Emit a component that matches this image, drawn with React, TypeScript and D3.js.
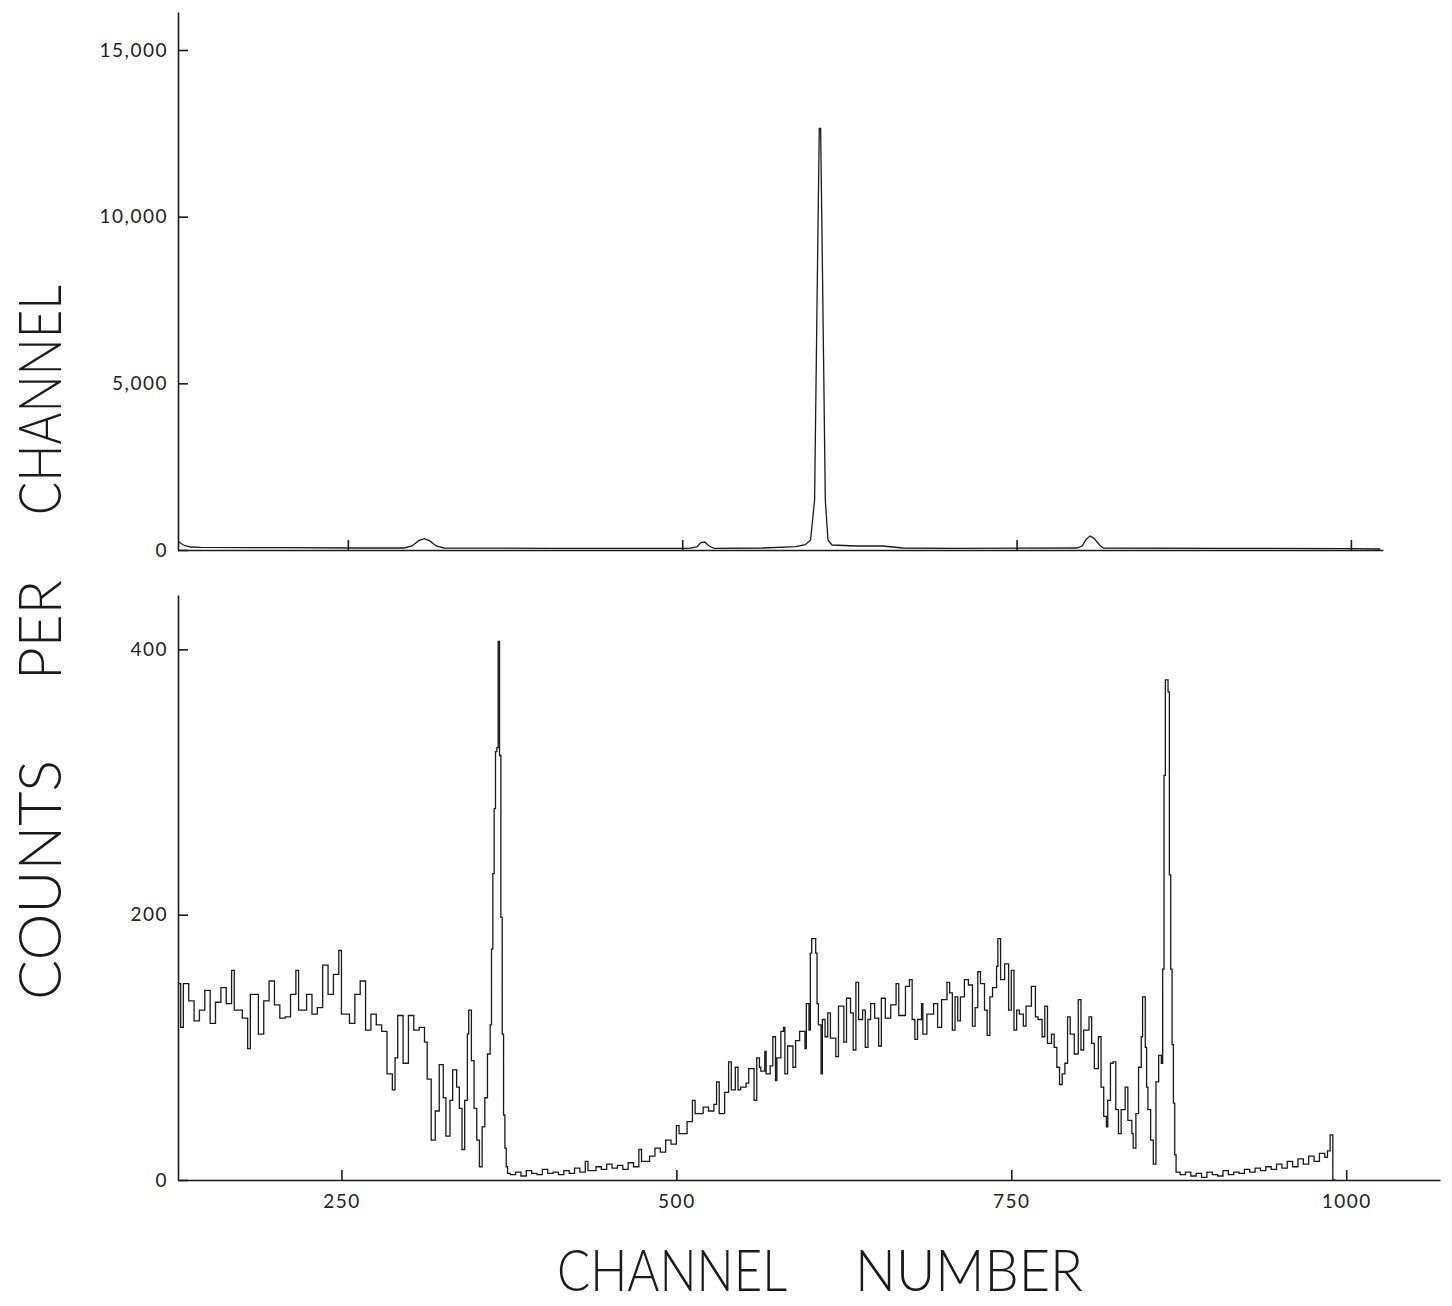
import React, { useEffect, useRef } from "react"
import * as d3 from "d3"

// upper panel: full spectrum at its turning points
const topChannels = [123, 127, 132, 140, 200, 260, 292, 298, 303, 307, 311, 316, 322, 400, 505, 511, 514, 517, 520, 524,
    560, 585, 592, 596, 599, 601, 602.5, 603.5, 605, 607, 609, 612, 630, 650, 665, 700, 795, 799, 802, 805,
    808, 812, 815, 900, 1000, 1022]
const topCounts = [260, 150, 90, 80, 70, 60, 60, 120, 280, 340, 280, 120, 60, 50, 50, 90, 220, 240, 120, 50,
    60, 100, 160, 300, 1500, 8000, 12650, 12650, 8000, 1500, 300, 150, 120, 120, 60, 50, 60, 120, 320, 420,
    350, 150, 60, 50, 40, 30]

// lower panel: same channels, expanded count scale (step histogram)
const bottomChannels = [
    128, 130, 132, 136, 140, 144, 148, 152, 156, 160, 164, 168, 170, 176, 180, 182, 186, 188, 192, 196,
    200, 204, 208, 212, 216, 218, 224, 228, 232, 236, 240, 244, 248, 250, 256, 260, 264, 268, 272, 276,
    280, 284, 288, 290, 292, 296, 300, 304, 308, 312, 314, 317, 320, 323, 326, 328, 331, 333, 336, 338,
    340, 342, 344, 345, 347, 349, 351, 353, 355, 357, 359, 361, 362, 363, 364, 365, 366, 367, 368, 369,
    370, 371, 372, 373, 374, 376, 380, 384, 388, 392, 396, 400, 404, 408, 412, 416, 420, 424, 428, 432,
    434, 440, 444, 448, 452, 456, 460, 464, 468, 472, 474, 480, 484, 488, 492, 496, 500, 502, 508, 512,
    514, 520, 524, 528, 530, 532, 536, 539, 541, 544, 546, 548, 552, 554, 558, 560, 562, 563, 566, 567,
    570, 572, 574, 575, 578, 580, 581, 583, 587, 589, 592, 596, 597, 599, 600, 601, 604, 605, 606, 608,
    609, 611, 613, 615, 619, 621, 625, 627, 630, 632, 634, 636, 639, 641, 643, 645, 648, 651, 653, 656,
    660, 664, 666, 671, 674, 676, 678, 680, 683, 684, 687, 692, 695, 698, 702, 704, 706, 708, 710, 712,
    715, 718, 721, 723, 725, 727, 730, 732, 734, 736, 739, 740, 742, 745, 748, 750, 752, 754, 756, 759,
    761, 765, 768, 770, 773, 775, 777, 780, 782, 784, 786, 788, 790, 792, 794, 797, 800, 802, 804, 808,
    810, 812, 815, 817, 819, 821, 822, 824, 826, 828, 830, 832, 835, 837, 840, 841, 843, 845, 847, 848,
    850, 851, 852, 854, 856, 858, 860, 862, 863, 864, 865, 867, 868, 869, 870, 871, 872, 873, 876, 880,
    884, 888, 892, 896, 900, 904, 908, 912, 916, 920, 924, 928, 932, 936, 940, 944, 948, 952, 956, 960,
    964, 968, 972, 976, 980, 984, 986, 988, 990, 992]
const bottomCounts = [
    148, 115, 148, 135, 120, 128, 143, 118, 134, 145, 133, 158, 128, 122, 99, 140, 140, 110, 135, 150,
    132, 122, 123, 140, 158, 128, 140, 125, 130, 162, 140, 155, 173, 125, 118, 140, 150, 113, 125, 117,
    112, 80, 68, 92, 124, 88, 124, 113, 115, 104, 76, 30, 52, 87, 62, 33, 60, 83, 70, 54,
    23, 60, 110, 128, 90, 54, 30, 10, 40, 62, 95, 117, 174, 231, 280, 323, 326, 406, 320, 198,
    110, 49, 24, 10, 5, 4, 6, 3, 7, 5, 4, 8, 5, 6, 4, 7, 5, 9, 6, 14,
    7, 10, 8, 12, 9, 11, 8, 13, 10, 23, 14, 18, 24, 21, 30, 27, 41, 35, 44, 60,
    50, 55, 52, 57, 74, 50, 66, 89, 68, 85, 68, 70, 73, 84, 60, 92, 85, 82, 97, 80,
    86, 108, 75, 92, 112, 115, 80, 101, 85, 105, 112, 99, 133, 113, 171, 182, 171, 133, 117, 80,
    121, 108, 126, 107, 93, 131, 104, 137, 126, 98, 149, 121, 128, 100, 121, 133, 122, 101, 137, 122,
    132, 148, 124, 146, 151, 121, 106, 121, 133, 110, 125, 133, 115, 136, 149, 141, 113, 138, 120, 138,
    151, 147, 116, 130, 157, 148, 128, 109, 138, 145, 161, 182, 151, 163, 128, 158, 113, 128, 125, 116,
    131, 146, 123, 121, 108, 131, 103, 110, 100, 85, 72, 80, 88, 123, 110, 95, 136, 98, 113, 123,
    103, 84, 108, 70, 48, 40, 60, 88, 89, 53, 35, 53, 70, 45, 35, 24, 50, 85, 108, 138,
    100, 70, 53, 30, 12, 74, 94, 88, 159, 305, 377, 368, 230, 159, 102, 58, 19, 6, 4, 6,
    3, 5, 2, 6, 4, 3, 7, 4, 6, 5, 8, 6, 9, 7, 10, 8, 12, 9, 14, 10,
    16, 12, 18, 14, 20, 17, 22, 34, 0, 0]

const xTicks = [250, 500, 750, 1000]
const topYTicks = [0, 5000, 10000, 15000]
const bottomYTicks = [0, 200, 400]

const INK = "#1a1a1a"
const tickFont = "Lato, 'DejaVu Sans', sans-serif"

function Spectrum() {
    const svgRef = useRef(null)

    useEffect(() => {
        const width = 1452
        const height = 1306

        const svg = d3.select(svgRef.current)
        svg.selectAll("*").remove()
        svg.attr("width", width).attr("height", height)

        svg.append("rect").attr("width", width).attr("height", height).attr("fill", "#fff")

        const xTop = d3.scaleLinear().domain([123, 1024]).range([178, 1383])
        const yTop = d3.scaleLinear().domain([0, 16140]).range([550, 12])
        const xBot = d3.scaleLinear().domain([128, 1070]).range([178, 1440])
        const yBot = d3.scaleLinear().domain([0, 441]).range([1180, 595])

        const styleAxis = (g) => {
            g.select(".domain").attr("stroke", INK).attr("stroke-width", 1.6)
            g.selectAll(".tick line").attr("stroke", INK).attr("stroke-width", 1.6)
            g.attr("font-family", tickFont)
                .attr("font-size", 19)
            g.selectAll(".tick text")
                .attr("fill", "#222")
                .attr("letter-spacing", 1.5)
        }

        // upper panel axes
        g_axis(svg, `translate(0,${yTop(0)})`,
            d3.axisBottom(xTop).tickValues(xTicks).tickSize(-10).tickSizeOuter(0).tickFormat(() => ""), styleAxis)
        g_axis(svg, `translate(${xTop.range()[0]},0)`,
            d3.axisLeft(yTop).tickValues(topYTicks).tickSize(-10).tickSizeOuter(0).tickPadding(10)
                .tickFormat(d3.format(",")), styleAxis)

        // lower panel axes
        g_axis(svg, `translate(0,${yBot(0)})`,
            d3.axisBottom(xBot).tickValues(xTicks).tickSize(-10).tickSizeOuter(0).tickPadding(15)
                .tickFormat(d3.format("d")), styleAxis)
        g_axis(svg, `translate(${xBot.range()[0]},0)`,
            d3.axisLeft(yBot).tickValues(bottomYTicks).tickSize(-10).tickSizeOuter(0).tickPadding(10), styleAxis)

        const topLine = d3.line()
            .x((d, i) => xTop(topChannels[i]))
            .y((d) => yTop(d))
        svg.append("path")
            .attr("d", topLine(topCounts))
            .attr("fill", "none")
            .attr("stroke", INK)
            .attr("stroke-width", 1.3)

        const bottomLine = d3.line()
            .x((d, i) => xBot(bottomChannels[i]))
            .y((d) => yBot(d))
            .curve(d3.curveStepAfter)
        svg.append("path")
            .attr("d", bottomLine(bottomCounts))
            .attr("fill", "none")
            .attr("stroke", INK)
            .attr("stroke-width", 1.3)
            .attr("stroke-linejoin", "miter")

        // axis titles
        const titleFont = "Lato, 'DejaVu Sans', sans-serif"
        const xTitle = [["CHANNEL", 557, 230], ["NUMBER", 855, 228]]
        xTitle.forEach(([t, x, len]) => {
            svg.append("text")
                .attr("x", x)
                .attr("y", 1291)
                .attr("font-family", titleFont)
                .attr("font-weight", 300)
                .attr("font-size", 58)
                .attr("textLength", len)
                .attr("lengthAdjust", "spacingAndGlyphs")
                .attr("fill", INK)
                .text(t)
        })

        const yTitle = [["COUNTS", 1000, 240], ["PER", 680, 100], ["CHANNEL", 515, 230]]
        yTitle.forEach(([t, y, len]) => {
            svg.append("text")
                .attr("transform", "rotate(-90)")
                .attr("x", -y)
                .attr("y", 61)
                .attr("font-family", titleFont)
                .attr("font-weight", 300)
                .attr("font-size", 59)
                .attr("textLength", len)
                .attr("lengthAdjust", "spacingAndGlyphs")
                .attr("fill", INK)
                .text(t)
        })
    }, [])

    return <svg ref={svgRef} style={{ position: "absolute", left: 0, top: 0 }} />
}

function g_axis(svg, transform, axis, styleAxis) {
    const g = svg.append("g").attr("transform", transform).call(axis)
    styleAxis(g)
    return g
}

export default function App() {
    return <Spectrum />
}
